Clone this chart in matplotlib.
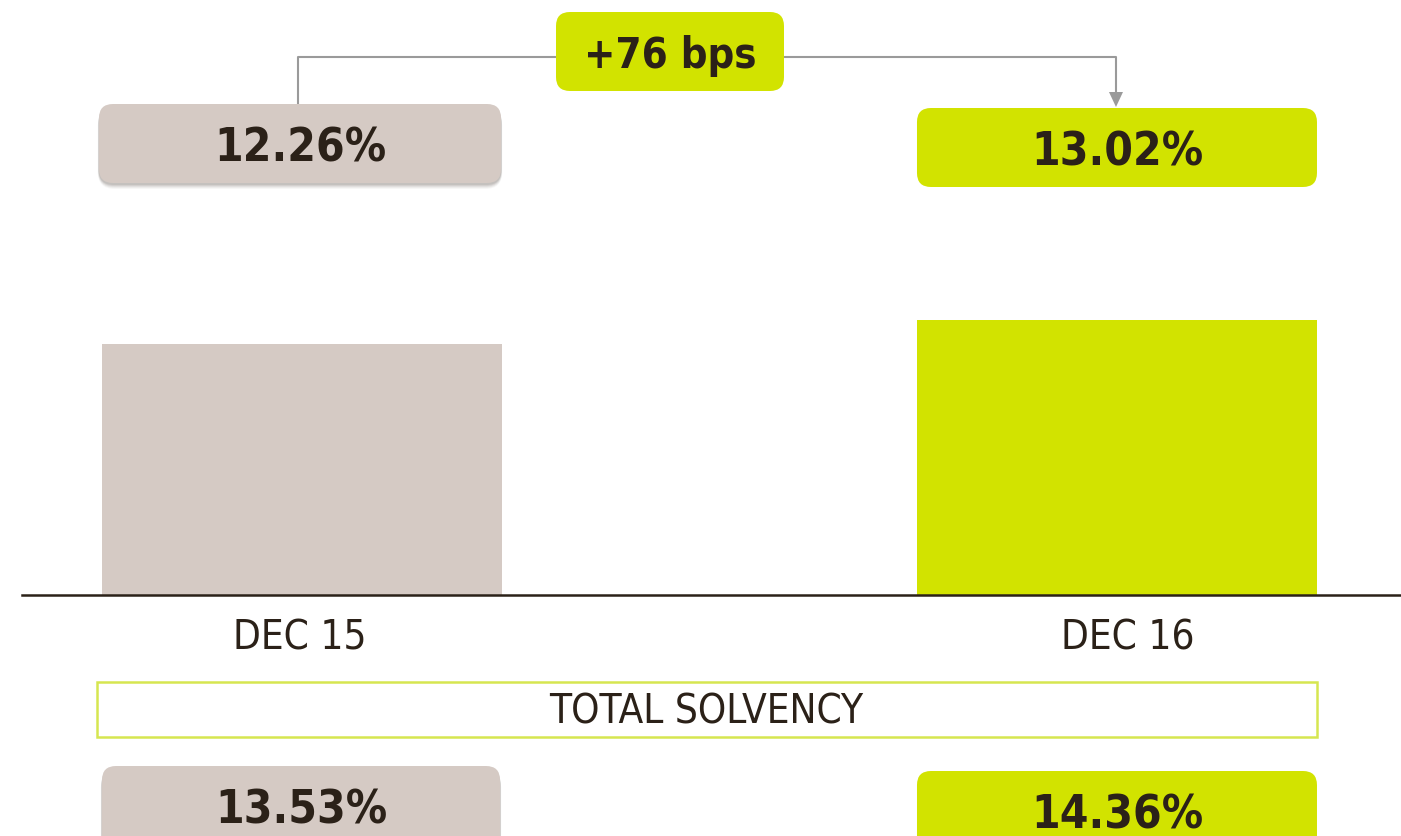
import matplotlib
matplotlib.use("Agg")
import matplotlib.pyplot as plt
from matplotlib.patches import FancyBboxPatch, Rectangle

# Data
periods = ["DEC 15", "DEC 16"]
cet1_ratio = [12.26, 13.02]          # bar values (%)
total_solvency = [13.53, 14.36]      # total solvency ratios (%)
change_label = "+76 bps"
section_title = "TOTAL SOLVENCY"

GREY = "#d5cac4"
GREEN = "#d2e300"
TEXT = "#2b2118"
FRAME = "#d6e650"
CONNECTOR = "#9a9a9a"

W, H, DPI = 1401, 836, 100
plt.rcParams["font.family"] = ["DejaVu Sans"]
STRETCH = "condensed"

fig = plt.figure(figsize=(W / DPI, H / DPI), dpi=DPI)
fig.patch.set_facecolor("white")

# Bar axes: baseline sits at y=595 px, spans the full width from x=22 px
base_px = 595
ax = fig.add_axes([22 / W, (H - base_px) / H, 1 - 22 / W, base_px / H])
colors = [GREY, GREEN]
xs = list(range(len(periods)))
ax.bar(xs, cet1_ratio, width=0.4908, color=colors, zorder=2)
ax.set_xlim(-0.3436, 1.3485)
ax.set_ylim(4.31, 4.31 + base_px / 31.57)
for s in ["top", "right", "left"]:
    ax.spines[s].set_visible(False)
ax.spines["bottom"].set_color(TEXT)
ax.spines["bottom"].set_linewidth(1.8)
ax.set_xticks([])
ax.set_yticks([])
ax.patch.set_alpha(0)

fig.canvas.draw()


def center_px(i):
    return ax.transData.transform((i, 0))[0]


# Drawing helpers in inch coordinates (uniform for rounded corners)
tr = fig.dpi_scale_trans


def px(x, y):
    return x / DPI, (H - y) / DPI


def _round_patch(cx, top, w, h, face, r, alpha=1.0, z=5):
    x0, y0 = px(cx - w / 2, top + h)
    return FancyBboxPatch((x0, y0), w / DPI, h / DPI,
                          boxstyle=f"round,pad=0,rounding_size={r / DPI}",
                          transform=tr, facecolor=face, edgecolor="none",
                          alpha=alpha, zorder=z)


def rbox(cx, top, w, h, face, shadow=False, r=14):
    if shadow:
        # soft drop shadow built from a few stacked translucent layers
        for k, a in [(6, 0.05), (5, 0.07), (4, 0.09), (3, 0.12), (2, 0.14)]:
            fig.add_artist(_round_patch(cx, top + k, w + k * 0.4, h,
                                        "#6e6660", r + k * 0.5, a, z=4.5))
    fig.add_artist(_round_patch(cx, top, w, h, face, r))


def label(cx, cy, text, size, weight="bold"):
    x, y = px(cx, cy)
    fig.text(x, y, text, transform=tr, ha="center", va="center",
             fontsize=size, fontweight=weight, fontstretch=STRETCH,
             color=TEXT, zorder=6)


c0, c1 = center_px(0), center_px(1)
box_w = 400

# Value boxes above the bars
rbox(c0 - 2, 104, box_w + 2, 79, GREY, shadow=True)
label(c0 - 2, 149, f"{cet1_ratio[0]:.2f}%", 33)
rbox(c1, 108, box_w, 79, GREEN)
label(c1, 153, f"{cet1_ratio[1]:.2f}%", 33)

# Change connector: from first box up, across, down with arrow to second
line_y = 57
mid_left, mid_right = 556, 784
lx = c0 - 4
rx = c1 - 1
fig.add_artist(plt.Line2D([px(lx, 0)[0]] * 2 + [px(mid_left, 0)[0]],
                          [px(0, 104)[1], px(0, line_y)[1], px(0, line_y)[1]],
                          transform=tr, color=CONNECTOR, lw=1.5, zorder=3))
fig.add_artist(plt.Line2D([px(mid_right, 0)[0], px(rx, 0)[0], px(rx, 0)[0]],
                          [px(0, line_y)[1], px(0, line_y)[1], px(0, 94)[1]],
                          transform=tr, color=CONNECTOR, lw=1.5, zorder=3))
tri_x = [px(rx - 7, 0)[0], px(rx + 7, 0)[0], px(rx, 0)[0]]
tri_y = [px(0, 92)[1], px(0, 92)[1], px(0, 107)[1]]
fig.add_artist(plt.Polygon(list(zip(tri_x, tri_y)), closed=True,
                           transform=tr, facecolor=CONNECTOR,
                           edgecolor="none", zorder=3))

# Change badge
badge_cx = (mid_left + mid_right) / 2
rbox(badge_cx, 12, mid_right - mid_left, 79, GREEN)
label(badge_cx, 56, change_label, 30)

# Category labels
label_shift = [-2, 11]
for i, name in enumerate(periods):
    label(center_px(i) + label_shift[i], 639, name, 29, weight="normal")

# Section frame
fx0, fy0 = px(97, 737)
fig.add_artist(Rectangle((fx0, fy0), (1317 - 97) / DPI, (737 - 682) / DPI,
                         transform=tr, facecolor="white", edgecolor=FRAME,
                         linewidth=1.8, zorder=4))
label(706, 713, section_title, 29, weight="normal")

# Total solvency boxes (run past the bottom edge)
rbox(c0 - 1, 766, box_w - 2, 84, GREY, shadow=True)
label(c0 - 1, 811, f"{total_solvency[0]:.2f}%", 33)
rbox(c1, 771, box_w, 84, GREEN)
label(c1, 816, f"{total_solvency[1]:.2f}%", 33)

fig.savefig("out.png", dpi=DPI, facecolor="white")
